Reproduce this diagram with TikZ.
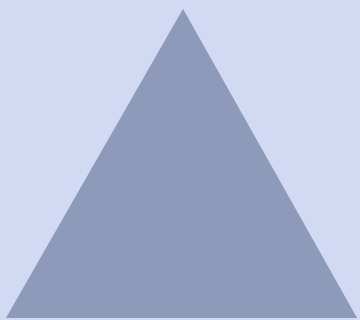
\documentclass[tikz,border=0pt]{standalone}
\definecolor{bg}{HTML}{D2DAF3}
\definecolor{tri}{HTML}{8E9AB9}
\begin{document}
\begin{tikzpicture}[x=1pt,y=-1pt]
\fill[bg] (0,0) rectangle (360,320);
\useasboundingbox (0,0) rectangle (360,320);
\coordinate (apex) at (183,9);
\coordinate (bl) at (6,318);
\coordinate (br) at (357,318);
\fill[tri] (apex) -- (br) -- (bl) -- cycle;
\end{tikzpicture}
\end{document}
